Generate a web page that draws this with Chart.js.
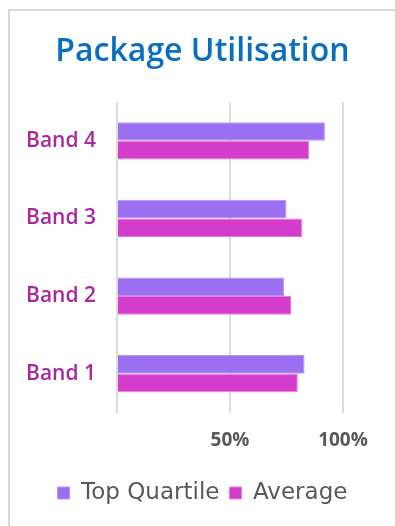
<!DOCTYPE html>
<html>
<head>
<meta charset="utf-8">
<script src="https://cdn.jsdelivr.net/npm/chart.js@4.4.0/dist/chart.umd.min.js"></script>
<style>
    body { margin: 0; background: #fff; overflow: hidden; }
    .card {
        position: absolute;
        left: 8px;
        top: 9px;
        width: 420px;
        height: 560px;
        border-left: 2px solid #dadada;
        border-top: 2px solid #dadada;
    }
    #packageChart { position: absolute; left: 0; top: 0; }
</style>
</head>
<body>
<div class="card"></div>
<canvas id="packageChart" width="395" height="526"></canvas>
<script>
var bands = ['Band 4', 'Band 3', 'Band 2', 'Band 1'];
var topQuartile = [92, 75, 74, 83];
var average = [85, 82, 77, 80];
var percentTicks = [0, 50, 100];

var chart;

function initChart() {
    var ctx = document.getElementById('packageChart');

    chart = new Chart(ctx, {
        type: 'bar',
        data: {
            labels: bands,
            datasets: [{
                label: 'Top Quartile',
                data: topQuartile,
                backgroundColor: '#9c6ef0',
                borderColor: '#b593f5',
                borderWidth: 1,
                categoryPercentage: 0.48,
                barPercentage: 1.0
            }, {
                label: 'Average',
                data: average,
                backgroundColor: '#d43dcc',
                borderColor: '#e27ddc',
                borderWidth: 1,
                categoryPercentage: 0.48,
                barPercentage: 1.0
            }]
        },
        options: {
            indexAxis: 'y',
            responsive: false,
            animation: false,
            layout: {
                padding: { left: 10, right: 0, top: 0, bottom: 11.5 }
            },
            scales: {
                x: {
                    min: 0,
                    max: 100,
                    afterBuildTicks: function(scale) {
                        scale.ticks = percentTicks.map(function(v) { return { value: v }; });
                    },
                    afterFit: function(scale) {
                        scale.height = 59;
                    },
                    grid: {
                        color: '#dcdcdc',
                        lineWidth: 2,
                        drawTicks: false
                    },
                    border: { display: false },
                    ticks: {
                        padding: 17,
                        color: '#595959',
                        font: { family: 'Open Sans', size: 19, weight: 'bold' },
                        callback: function(v) {
                            return v === 0 ? '' : v + '%';
                        }
                    }
                },
                y: {
                    afterFit: function(scale) {
                        scale.width = 107;
                    },
                    grid: { display: false, drawTicks: false },
                    border: { display: false },
                    ticks: {
                        padding: 21,
                        color: '#a8299f',
                        font: { family: 'Open Sans', size: 21, weight: '600' }
                    }
                },
                // empty right-hand axis, keeps white space right of the plot
                spacer: {
                    axis: 'y',
                    position: 'right',
                    afterFit: function(scale) {
                        scale.width = 52;
                    },
                    grid: { display: false, drawTicks: false },
                    border: { display: false },
                    ticks: { display: false }
                }
            },
            plugins: {
                title: {
                    display: true,
                    text: 'Package Utilisation',
                    color: '#0a6fc2',
                    font: { family: 'Open Sans', size: 32, weight: '600', lineHeight: 1.2 },
                    padding: { top: 33, bottom: 30.6 }
                },
                legend: {
                    position: 'bottom',
                    labels: {
                        boxWidth: 12,
                        boxHeight: 12,
                        padding: 10,
                        color: '#595959',
                        font: { family: 'DejaVu Sans', size: 23 }
                    }
                },
                tooltip: { enabled: false }
            }
        }
    });
}

initChart();
</script>
</body>
</html>
